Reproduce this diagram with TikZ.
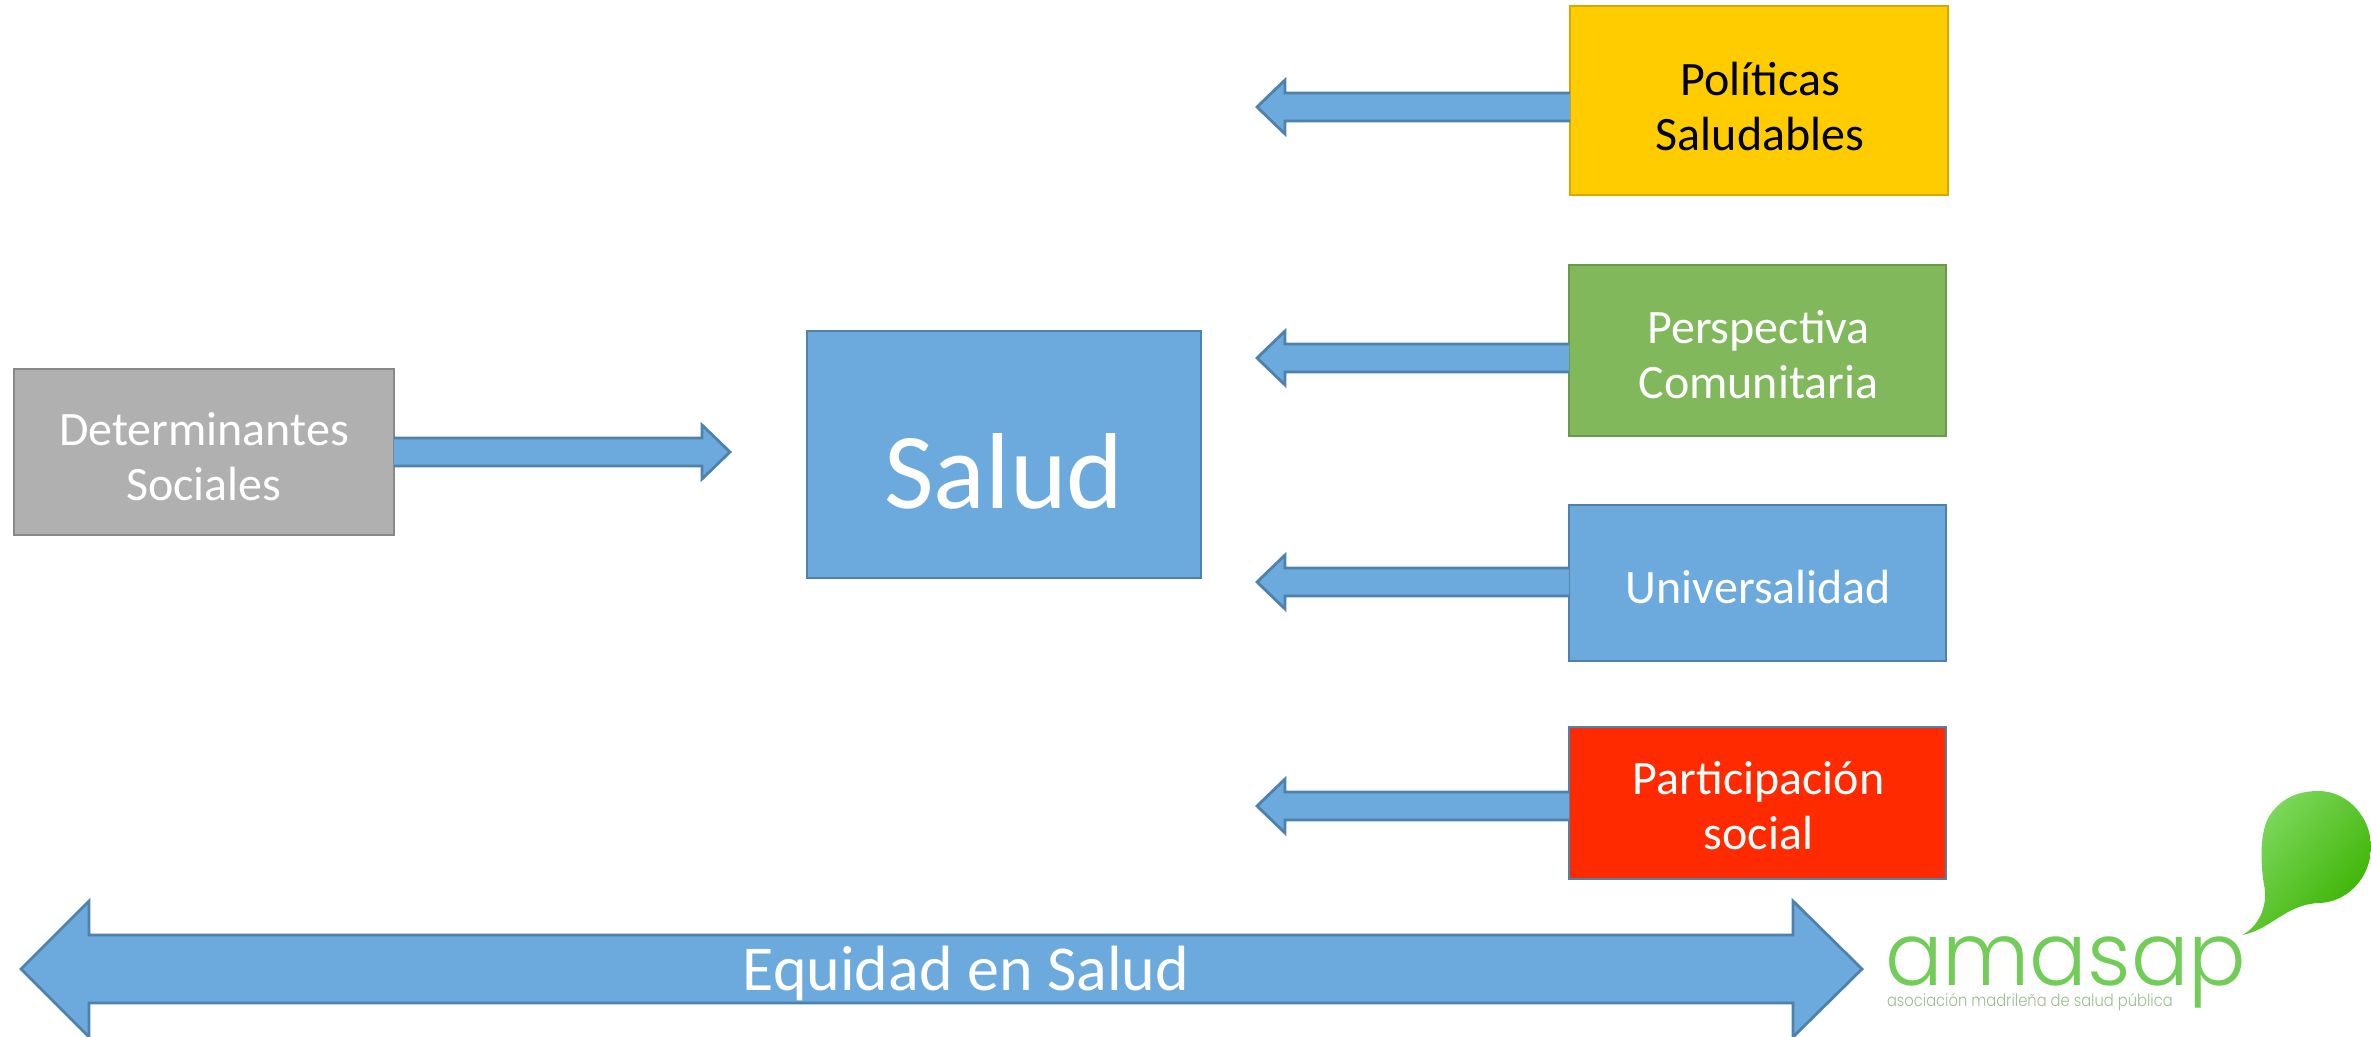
\documentclass[tikz,border=0pt]{standalone}
\usepackage{fontspec}
\setmainfont{Carlito}
\newfontfamily\logofont{Poppins}[UprightFont=* Light]
\usetikzlibrary{calc}
\definecolor{bluefill}{HTML}{6CAADD}
\definecolor{blueline}{HTML}{4E81AB}
\definecolor{logogreen}{HTML}{72CC58}
\definecolor{logosubc}{HTML}{9CBC90}
\definecolor{yelfill}{HTML}{FFCC00}
\definecolor{yelline}{HTML}{D9A800}
\definecolor{grnfill}{HTML}{82B85C}
\definecolor{grnline}{HTML}{6A9A48}
\definecolor{redfill}{HTML}{FF2A00}
\definecolor{grafill}{HTML}{B0B0B0}
\definecolor{graline}{HTML}{888888}
\definecolor{bublight}{HTML}{80D960}
\definecolor{bubdark}{HTML}{3AB200}
\tikzset{
  every node/.style={inner sep=0pt,outer sep=0pt,align=center,text=white,font=\fontsize{48}{55}\selectfont},
  box/.style={draw=#1,line width=2.8pt,rectangle,anchor=north west},
  ba/.style={draw=blueline,fill=bluefill,line width=2.8pt,line join=miter},
}
\newcommand{\leftblock}[2]{\draw[ba] ($(#1)+(0,-14)$) -- ($(#2)+(28,-14)$) -- ($(#2)+(28,-27)$) -- (#2) -- ($(#2)+(28,27)$) -- ($(#2)+(28,14)$) -- ($(#1)+(0,14)$);}
\newcommand{\rightblock}[2]{\draw[ba] ($(#1)+(0,-14)$) -- ($(#2)+(-28,-14)$) -- ($(#2)+(-28,-27)$) -- (#2) -- ($(#2)+(-28,27)$) -- ($(#2)+(-28,14)$) -- ($(#1)+(0,14)$);}
\begin{document}
\begin{tikzpicture}[x=1pt,y=-1pt]
\useasboundingbox (0,0) rectangle (2371,1036);
% boxes
\node[box=yelline,fill=yelfill,minimum width=378pt,minimum height=189pt,label={[text=black,xshift=1pt,yshift=-6pt]center:Políticas\\Saludables}] (pol) at (1570,6) {};
\node[box=grnline,fill=grnfill,minimum width=377pt,minimum height=171pt,label={[xshift=1pt,yshift=-4pt]center:Perspectiva\\Comunitaria}] (per) at (1569,265) {};
\node[box=blueline,fill=bluefill,minimum width=377pt,minimum height=156pt,label={[xshift=1pt,yshift=-4.5pt]center:Universalidad}] (uni) at (1569,505) {};
\node[box=blueline,fill=redfill,minimum width=377pt,minimum height=152pt,label={[xshift=1pt,yshift=-2.5pt]center:Participación\\social}] (par) at (1569,727) {};
\node[box=blueline,fill=bluefill,minimum width=394pt,minimum height=247pt,label={[font=\fontsize{108}{120}\selectfont,yshift=-17pt]center:Salud}] (sal) at (807,331) {};
\node[box=graline,fill=grafill,minimum width=380pt,minimum height=166pt,label={[yshift=-4.5pt]center:Determinantes\\Sociales}] (det) at (14,369) {};
% connector ends
\coordinate (polS) at (pol.west |- 0,107);
\coordinate (perS) at (per.west |- 0,358);
\coordinate (uniS) at (uni.west |- 0,582);
\coordinate (parS) at (par.west |- 0,806);
\coordinate (detS) at (det.east |- 0,452);
\coordinate (polT) at (1257,107);
\coordinate (perT) at (1257,358);
\coordinate (uniT) at (1257,582);
\coordinate (parT) at (1257,806);
\coordinate (detT) at (730,452);
\leftblock{polS}{polT}
\leftblock{perS}{perT}
\leftblock{uniS}{uniT}
\leftblock{parS}{parT}
\rightblock{detS}{detT}
% double arrow
\coordinate (eqL) at (21,969);
\coordinate (eqR) at (1862,969);
\draw[ba] (eqL) -- ($(eqL)+(68,-68)$) -- ($(eqL)+(68,-34)$) -- ($(eqR)+(-69,-34)$) -- ($(eqR)+(-69,-68)$) -- (eqR) -- ($(eqR)+(-69,68)$) -- ($(eqR)+(-69,34)$) -- ($(eqL)+(68,34)$) -- ($(eqL)+(68,68)$) -- cycle;
\node[font=\fontsize{64}{70}\selectfont] (eq) at (966,973) {Equidad en Salud};
% logo
\shade[left color=bublight,right color=bubdark,shading angle=50,draw=none]
  (2242,935) .. controls (2262,925) and (2268,900) .. (2264,885)
  .. controls (2260,860) and (2260,830) .. (2270,815)
  .. controls (2282,797) and (2300,791) .. (2318,791)
  .. controls (2350,791) and (2371,820) .. (2371,846)
  .. controls (2371,880) and (2345,903) .. (2318,903)
  .. controls (2285,905) and (2270,930) .. (2242,935) -- cycle;
\node[text=logogreen,anchor=base west,font=\logofont\fontsize{88}{88}\selectfont,xscale=0.97] (logo) at (1885,985) {amasap};
\node[text=logosubc,anchor=base west,font=\logofont\fontsize{17}{17}\selectfont,xscale=0.865] (logosub) at (1887,1006) {asociación madrileña de salud pública};
\end{tikzpicture}
\end{document}
